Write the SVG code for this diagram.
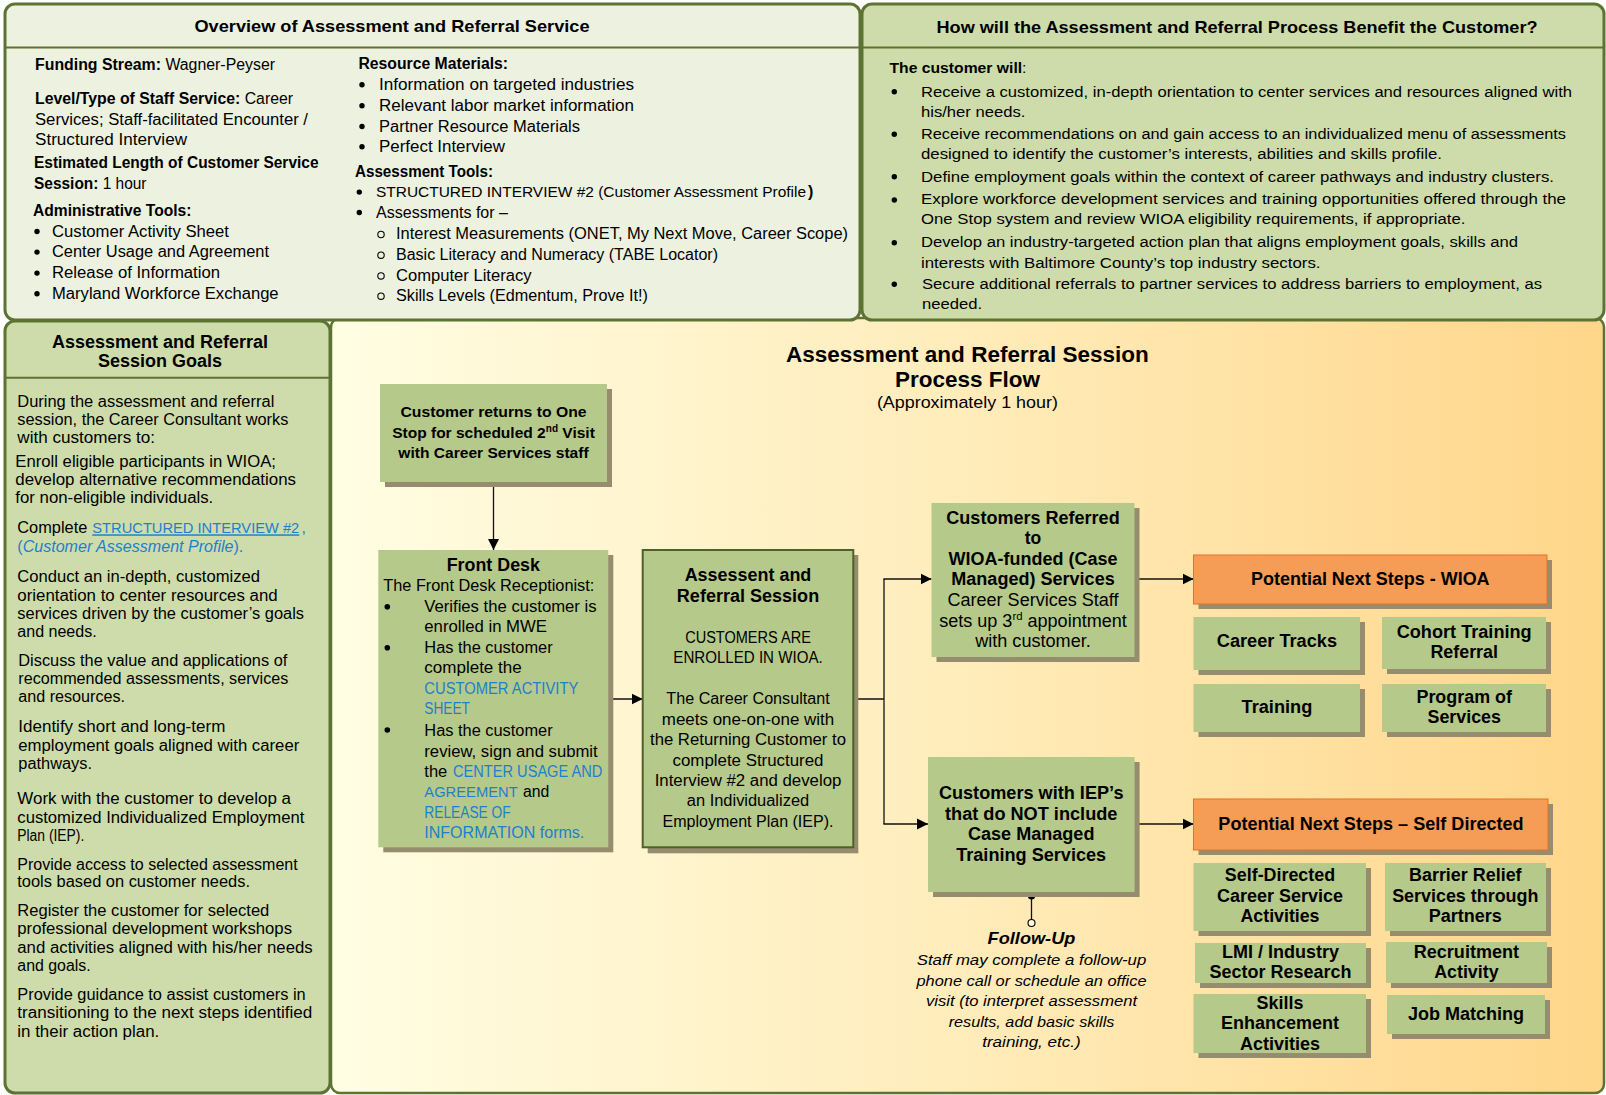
<svg xmlns="http://www.w3.org/2000/svg" width="1606" height="1095" viewBox="0 0 1606 1095">
<defs>
<linearGradient id="flowbg" x1="0" y1="0" x2="1" y2="0">
<stop offset="0" stop-color="#FFFDE3"/>
<stop offset="0.5" stop-color="#FFECBA"/>
<stop offset="1" stop-color="#FFD68A"/>
</linearGradient>
<marker id="arr" markerWidth="12" markerHeight="12" refX="11" refY="6" orient="auto" markerUnits="userSpaceOnUse">
<path d="M0,0.5 L11,6 L0,11.5 z" fill="#000"/>
</marker>
<style>
text{font-family:"Liberation Sans",Arial,sans-serif;fill:#000}
.b{font-weight:bold}
.i{font-style:italic}
.m{text-anchor:middle}
.lnk{fill:#1F7FCC}
.panel{stroke:#5C7332;stroke-width:3}
.pale{fill:#ECF1E0}
.green{fill:#CDDCAA}
.div{stroke:#5C7332;stroke-width:2}
.node{fill:#B5C98A}
.sh{fill:#968C6E}
.or{fill:#F59C56;stroke:#E8731E;stroke-width:1}
.conn{stroke:#111;stroke-width:1.3;fill:none}
</style>
</defs>

<!-- Flow panel background -->
<g id="flow-panel">
<rect x="331" y="318" width="1273" height="775" rx="9" fill="url(#flowbg)" stroke="#5C7332" stroke-width="2.5"/>
<text class="b m" x="967.4" y="361.5" font-size="22" textLength="363" lengthAdjust="spacingAndGlyphs">Assessment and Referral Session</text>
<text class="b m" x="967.4" y="387" font-size="22" textLength="145" lengthAdjust="spacingAndGlyphs">Process Flow</text>
<text class="m" x="967.4" y="407.5" font-size="17" textLength="181" lengthAdjust="spacingAndGlyphs">(Approximately 1 hour)</text>
</g>

<!-- Top-left panel -->
<g id="overview-panel" font-size="16">
<rect class="panel pale" x="5" y="4" width="855" height="316" rx="10"/>
<line class="div" x1="6" y1="47.5" x2="859" y2="47.5"/>
<text class="b m" x="392" y="32" font-size="17" textLength="395" lengthAdjust="spacingAndGlyphs">Overview of Assessment and Referral Service</text>
<text x="35" y="70" textLength="240" lengthAdjust="spacingAndGlyphs"><tspan class="b">Funding Stream:</tspan> Wagner-Peyser</text>
<text x="35" y="104.3" textLength="258" lengthAdjust="spacingAndGlyphs"><tspan class="b">Level/Type of Staff Service:</tspan> Career</text>
<text x="35" y="125" textLength="273" lengthAdjust="spacingAndGlyphs">Services; Staff-facilitated Encounter /</text>
<text x="35" y="145" textLength="152" lengthAdjust="spacingAndGlyphs">Structured Interview</text>
<text class="b" x="34" y="168.3" textLength="284.5" lengthAdjust="spacingAndGlyphs">Estimated Length of Customer Service</text>
<text x="34" y="189" textLength="112.5" lengthAdjust="spacingAndGlyphs"><tspan class="b">Session:</tspan> 1 hour</text>
<text class="b" x="33" y="216" textLength="158.5" lengthAdjust="spacingAndGlyphs">Administrative Tools:</text>
<circle cx="37" cy="231.5" r="2.7"/>
<circle cx="37" cy="252.1" r="2.7"/>
<circle cx="37" cy="273.1" r="2.7"/>
<circle cx="37" cy="293.8" r="2.7"/>
<text x="52" y="236.7" textLength="177" lengthAdjust="spacingAndGlyphs">Customer Activity Sheet</text>
<text x="52" y="257.3" textLength="217" lengthAdjust="spacingAndGlyphs">Center Usage and Agreement</text>
<text x="52" y="278.3" textLength="168" lengthAdjust="spacingAndGlyphs">Release of Information</text>
<text x="52" y="299" textLength="226.6" lengthAdjust="spacingAndGlyphs">Maryland Workforce Exchange</text>

<text class="b" x="358.5" y="68.7" textLength="149.5" lengthAdjust="spacingAndGlyphs">Resource Materials:</text>
<circle cx="362" cy="84.8" r="2.7"/>
<circle cx="362" cy="105.8" r="2.7"/>
<circle cx="362" cy="126.5" r="2.7"/>
<circle cx="362" cy="146.8" r="2.7"/>
<text x="379" y="90" textLength="255" lengthAdjust="spacingAndGlyphs">Information on targeted industries</text>
<text x="379" y="111" textLength="255" lengthAdjust="spacingAndGlyphs">Relevant labor market information</text>
<text x="379" y="131.7" textLength="201" lengthAdjust="spacingAndGlyphs">Partner Resource Materials</text>
<text x="379" y="152" textLength="126" lengthAdjust="spacingAndGlyphs">Perfect Interview</text>
<text class="b" x="355" y="176.7" textLength="138" lengthAdjust="spacingAndGlyphs">Assessment Tools:</text>
<circle cx="359.3" cy="192.1" r="2.7"/>
<circle cx="359.3" cy="212.5" r="2.7"/>
<text x="376" y="197.3" font-size="15.3" textLength="430" lengthAdjust="spacingAndGlyphs">STRUCTURED INTERVIEW #2 (Customer Assessment Profile</text>
<text class="b" x="808" y="197.3">)</text>
<text x="376" y="217.7" textLength="132" lengthAdjust="spacingAndGlyphs">Assessments for –</text>
<g fill="none" stroke="#000" stroke-width="1.1">
<circle cx="381" cy="234.5" r="3.2"/>
<circle cx="381" cy="255.2" r="3.2"/>
<circle cx="381" cy="275.9" r="3.2"/>
<circle cx="381" cy="296.2" r="3.2"/>
</g>
<text x="396" y="239.3" textLength="452" lengthAdjust="spacingAndGlyphs">Interest Measurements (ONET, My Next Move, Career Scope)</text>
<text x="396" y="260" textLength="322" lengthAdjust="spacingAndGlyphs">Basic Literacy and Numeracy (TABE Locator)</text>
<text x="396" y="280.7" textLength="135.5" lengthAdjust="spacingAndGlyphs">Computer Literacy</text>
<text x="396" y="301" textLength="252" lengthAdjust="spacingAndGlyphs">Skills Levels (Edmentum, Prove It!)</text>
</g>

<!-- Top-right panel -->
<g id="benefit-panel" font-size="15.5">
<rect class="panel green" x="862" y="4" width="742" height="316" rx="10"/>
<line class="div" x1="863" y1="47.5" x2="1603" y2="47.5"/>
<text class="b m" x="1237" y="33" font-size="17" textLength="601" lengthAdjust="spacingAndGlyphs">How will the Assessment and Referral Process Benefit the Customer?</text>
<text x="889.5" y="72.7" textLength="137" lengthAdjust="spacingAndGlyphs"><tspan class="b">The customer will</tspan>:</text>
<circle cx="894.3" cy="91.7" r="2.7"/>
<circle cx="894.3" cy="134.3" r="2.7"/>
<circle cx="894.3" cy="176.7" r="2.7"/>
<circle cx="894.3" cy="200" r="2.7"/>
<circle cx="894.3" cy="242.7" r="2.7"/>
<circle cx="894.3" cy="284.3" r="2.7"/>
<text x="921" y="96.7" textLength="651" lengthAdjust="spacingAndGlyphs">Receive a customized, in-depth orientation to center services and resources aligned with</text>
<text x="921" y="116.7" textLength="104.4" lengthAdjust="spacingAndGlyphs">his/her needs.</text>
<text x="921" y="138.7" textLength="645" lengthAdjust="spacingAndGlyphs">Receive recommendations on and gain access to an individualized menu of assessments</text>
<text x="921" y="159.3" textLength="521" lengthAdjust="spacingAndGlyphs">designed to identify the customer’s interests, abilities and skills profile.</text>
<text x="921" y="181.7" textLength="633" lengthAdjust="spacingAndGlyphs">Define employment goals within the context of career pathways and industry clusters.</text>
<text x="921" y="204" textLength="645" lengthAdjust="spacingAndGlyphs">Explore workforce development services and training opportunities offered through the</text>
<text x="921" y="224.3" textLength="544.5" lengthAdjust="spacingAndGlyphs">One Stop system and review WIOA eligibility requirements, if appropriate.</text>
<text x="921" y="247.3" textLength="597" lengthAdjust="spacingAndGlyphs">Develop an industry-targeted action plan that aligns employment goals, skills and</text>
<text x="921" y="267.7" textLength="399.5" lengthAdjust="spacingAndGlyphs">interests with Baltimore County’s top industry sectors.</text>
<text x="922" y="288.7" textLength="620" lengthAdjust="spacingAndGlyphs">Secure additional referrals to partner services to address barriers to employment, as</text>
<text x="922" y="309" textLength="60" lengthAdjust="spacingAndGlyphs">needed.</text>
</g>

<!-- Left goals panel -->
<g id="goals-panel" font-size="16">
<rect class="panel green" x="5" y="321" width="325" height="772" rx="10"/>
<line class="div" x1="6" y1="377.7" x2="329" y2="377.7"/>
<text class="b m" x="160" y="347.5" font-size="18" textLength="216" lengthAdjust="spacingAndGlyphs">Assessment and Referral</text>
<text class="b m" x="160" y="367" font-size="18" textLength="124" lengthAdjust="spacingAndGlyphs">Session Goals</text>
<text x="17.3" y="407" textLength="257" lengthAdjust="spacingAndGlyphs">During the assessment and referral</text>
<text x="17.3" y="425" textLength="271" lengthAdjust="spacingAndGlyphs">session, the Career Consultant works</text>
<text x="17.3" y="443.3" textLength="137.7" lengthAdjust="spacingAndGlyphs">with customers to:</text>
<text x="15.3" y="467.3" textLength="260.7" lengthAdjust="spacingAndGlyphs">Enroll eligible participants in WIOA;</text>
<text x="15.3" y="485.3" textLength="280.7" lengthAdjust="spacingAndGlyphs">develop alternative recommendations</text>
<text x="15.3" y="503.3" textLength="198" lengthAdjust="spacingAndGlyphs">for non-eligible individuals.</text>
<text x="17.3" y="533.3" textLength="70" lengthAdjust="spacingAndGlyphs">Complete</text>
<text class="lnk" x="92.3" y="533.3" font-size="14.6" textLength="207" lengthAdjust="spacingAndGlyphs" text-decoration="underline">STRUCTURED INTERVIEW #2</text>
<text class="lnk" x="301.5" y="533.3">,</text>
<text x="17.3" y="552" textLength="226" lengthAdjust="spacingAndGlyphs" class="lnk">(<tspan class="i lnk">Customer Assessment Profile</tspan>).</text>
<text x="17.3" y="581.7" textLength="242.7" lengthAdjust="spacingAndGlyphs">Conduct an in-depth, customized</text>
<text x="17.3" y="600.7" textLength="260.4" lengthAdjust="spacingAndGlyphs">orientation to center resources and</text>
<text x="17.3" y="618.7" textLength="286.7" lengthAdjust="spacingAndGlyphs">services driven by the customer’s goals</text>
<text x="17.3" y="637.3" textLength="79.4" lengthAdjust="spacingAndGlyphs">and needs.</text>
<text x="18.3" y="665.7" textLength="269" lengthAdjust="spacingAndGlyphs">Discuss the value and applications of</text>
<text x="18.3" y="684.3" textLength="270" lengthAdjust="spacingAndGlyphs">recommended assessments, services</text>
<text x="18.3" y="702.3" textLength="106.7" lengthAdjust="spacingAndGlyphs">and resources.</text>
<text x="18.3" y="732.3" textLength="207" lengthAdjust="spacingAndGlyphs">Identify short and long-term</text>
<text x="18.3" y="751.3" textLength="281" lengthAdjust="spacingAndGlyphs">employment goals aligned with career</text>
<text x="18.3" y="769" textLength="73.7" lengthAdjust="spacingAndGlyphs">pathways.</text>
<text x="17.3" y="803.7" textLength="273.7" lengthAdjust="spacingAndGlyphs">Work with the customer to develop a</text>
<text x="17.3" y="823.3" textLength="287" lengthAdjust="spacingAndGlyphs">customized Individualized Employment</text>
<text x="17.3" y="841" textLength="67" lengthAdjust="spacingAndGlyphs">Plan (IEP).</text>
<text x="17.3" y="870" textLength="280.4" lengthAdjust="spacingAndGlyphs">Provide access to selected assessment</text>
<text x="17.3" y="887.3" textLength="232.7" lengthAdjust="spacingAndGlyphs">tools based on customer needs.</text>
<text x="17.3" y="915.7" textLength="252" lengthAdjust="spacingAndGlyphs">Register the customer for selected</text>
<text x="17.3" y="934" textLength="274.7" lengthAdjust="spacingAndGlyphs">professional development workshops</text>
<text x="17.3" y="952.7" textLength="295.4" lengthAdjust="spacingAndGlyphs">and activities aligned with his/her needs</text>
<text x="17.3" y="970.7" textLength="73.4" lengthAdjust="spacingAndGlyphs">and goals.</text>
<text x="17.3" y="1000" textLength="288.4" lengthAdjust="spacingAndGlyphs">Provide guidance to assist customers in</text>
<text x="17.3" y="1018.3" textLength="295" lengthAdjust="spacingAndGlyphs">transitioning to the next steps identified</text>
<text x="17.3" y="1036.7" textLength="142" lengthAdjust="spacingAndGlyphs">in their action plan.</text>
</g>

<!-- Connectors -->
<g id="connectors">
<line class="conn" x1="493.5" y1="482" x2="493.5" y2="550" marker-end="url(#arr)"/>
<line class="conn" x1="608.3" y1="699" x2="642.7" y2="699" marker-end="url(#arr)"/>
<path class="conn" d="M853.3,699 H884 M884,579 V824"/>
<line class="conn" x1="883.4" y1="579" x2="931.5" y2="579" marker-end="url(#arr)"/>
<line class="conn" x1="883.4" y1="824" x2="928" y2="824" marker-end="url(#arr)"/>
<line class="conn" x1="1134.6" y1="579" x2="1193.5" y2="579" marker-end="url(#arr)"/>
<line class="conn" x1="1134.6" y1="824" x2="1193.5" y2="824" marker-end="url(#arr)"/>
<line class="conn" x1="1031.5" y1="896" x2="1031.5" y2="919.5"/>
<circle cx="1031.5" cy="896" r="3.6" fill="#000"/>
<circle cx="1031.5" cy="923" r="3.5" fill="#FFF8DC" stroke="#000" stroke-width="1.1"/>
</g>

<!-- Node: customer returns -->
<g id="node-return" font-size="15.5">
<rect class="sh" x="385" y="389" width="227" height="98"/>
<rect class="node" x="380" y="384" width="227" height="98"/>
<text class="b m" x="493.5" y="417.3" textLength="186" lengthAdjust="spacingAndGlyphs">Customer returns to One</text>
<text class="b m" x="493.5" y="438.3" textLength="202.7" lengthAdjust="spacingAndGlyphs">Stop for scheduled 2<tspan font-size="10" dy="-6">nd</tspan><tspan dy="6"> Visit</tspan></text>
<text class="b m" x="493.5" y="458.3" textLength="190.3" lengthAdjust="spacingAndGlyphs">with Career Services staff</text>
</g>

<!-- Node: front desk -->
<g id="node-frontdesk" font-size="16">
<rect class="sh" x="383.3" y="555" width="230" height="297.3"/>
<rect class="node" x="378.3" y="550" width="230" height="297.3"/>
<text class="b m" x="493.3" y="570.7" font-size="17.5" textLength="93.3" lengthAdjust="spacingAndGlyphs">Front Desk</text>
<text x="383.3" y="591" textLength="211" lengthAdjust="spacingAndGlyphs">The Front Desk Receptionist:</text>
<circle cx="387.3" cy="606.7" r="2.8"/>
<circle cx="387.3" cy="647.7" r="2.8"/>
<circle cx="387.3" cy="730" r="2.8"/>
<text x="424.3" y="612.3" textLength="172.3" lengthAdjust="spacingAndGlyphs">Verifies the customer is</text>
<text x="424.3" y="632.3" textLength="122.7" lengthAdjust="spacingAndGlyphs">enrolled in MWE</text>
<text x="424.3" y="653.3" textLength="128.4" lengthAdjust="spacingAndGlyphs">Has the customer</text>
<text x="424.3" y="673.3" textLength="97.4" lengthAdjust="spacingAndGlyphs">complete the</text>
<text class="lnk" x="424.3" y="694.3" textLength="154" lengthAdjust="spacingAndGlyphs">CUSTOMER ACTIVITY</text>
<text class="lnk" x="424.3" y="714.3" textLength="45.7" lengthAdjust="spacingAndGlyphs">SHEET</text>
<text x="424.3" y="735.7" textLength="128.4" lengthAdjust="spacingAndGlyphs">Has the customer</text>
<text x="424.3" y="756.7" textLength="173.4" lengthAdjust="spacingAndGlyphs">review, sign and submit</text>
<text x="424.3" y="776.7" textLength="23" lengthAdjust="spacingAndGlyphs">the</text>
<text class="lnk" x="453" y="776.7" textLength="149.3" lengthAdjust="spacingAndGlyphs">CENTER USAGE AND</text>
<text class="lnk" x="424.3" y="797.3" font-size="14.6" textLength="93.4" lengthAdjust="spacingAndGlyphs">AGREEMENT</text>
<text x="523" y="797.3" textLength="26.3" lengthAdjust="spacingAndGlyphs">and</text>
<text class="lnk" x="424.3" y="817.7" textLength="86.4" lengthAdjust="spacingAndGlyphs">RELEASE OF</text>
<text class="lnk" x="424.3" y="838.3" textLength="160" lengthAdjust="spacingAndGlyphs">INFORMATION forms.</text>
</g>

<!-- Node: assessment session -->
<g id="node-session" font-size="16">
<rect class="sh" x="647.7" y="555" width="210.6" height="298.3"/>
<rect class="node" x="642.7" y="550" width="210.6" height="297.3" stroke="#4E6128" stroke-width="2"/>
<text class="b m" x="748" y="580.7" font-size="17.5" textLength="126.7" lengthAdjust="spacingAndGlyphs">Assessent and</text>
<text class="b m" x="748" y="601.7" font-size="17.5" textLength="142.3" lengthAdjust="spacingAndGlyphs">Referral Session</text>
<text class="m" x="748" y="643.3" textLength="125.7" lengthAdjust="spacingAndGlyphs">CUSTOMERS ARE</text>
<text class="m" x="748" y="663.3" textLength="149.3" lengthAdjust="spacingAndGlyphs">ENROLLED IN WIOA.</text>
<text class="m" x="748" y="704.3" textLength="163.3" lengthAdjust="spacingAndGlyphs">The Career Consultant</text>
<text class="m" x="748" y="725" textLength="172.3" lengthAdjust="spacingAndGlyphs">meets one-on-one with</text>
<text class="m" x="748" y="745" textLength="196" lengthAdjust="spacingAndGlyphs">the Returning Customer to</text>
<text class="m" x="748" y="765.7" textLength="151" lengthAdjust="spacingAndGlyphs">complete Structured</text>
<text class="m" x="748" y="786" textLength="186.7" lengthAdjust="spacingAndGlyphs">Interview #2 and develop</text>
<text class="m" x="748" y="806" textLength="122.3" lengthAdjust="spacingAndGlyphs">an Individualized</text>
<text class="m" x="748" y="826.7" textLength="171" lengthAdjust="spacingAndGlyphs">Employment Plan (IEP).</text>
</g>

<!-- Node: customers referred to WIOA -->
<g id="node-wioa-referred" font-size="17.5">
<rect class="sh" x="936.5" y="508" width="203" height="154"/>
<rect class="node" x="931.5" y="503" width="203" height="154"/>
<text class="b m" x="1033" y="524.3" textLength="173.3" lengthAdjust="spacingAndGlyphs">Customers Referred</text>
<text class="b m" x="1033" y="544.3">to</text>
<text class="b m" x="1033" y="565.3" textLength="168.8" lengthAdjust="spacingAndGlyphs">WIOA-funded (Case</text>
<text class="b m" x="1033" y="585.3" textLength="163.4" lengthAdjust="spacingAndGlyphs">Managed) Services</text>
<text class="m" x="1033" y="605.7" textLength="171" lengthAdjust="spacingAndGlyphs">Career Services Staff</text>
<text class="m" x="1033" y="626.7" textLength="187.7" lengthAdjust="spacingAndGlyphs">sets up 3<tspan font-size="11" dy="-7">rd</tspan><tspan dy="7"> appointment</tspan></text>
<text class="m" x="1033" y="646.7" textLength="115.7" lengthAdjust="spacingAndGlyphs">with customer.</text>
</g>

<!-- Node: customers with IEPs -->
<g id="node-iep" font-size="17.5">
<rect class="sh" x="933" y="762" width="206.6" height="135"/>
<rect class="node" x="928" y="757" width="206.6" height="135"/>
<text class="b m" x="1031.2" y="799" textLength="184.6" lengthAdjust="spacingAndGlyphs">Customers with IEP’s</text>
<text class="b m" x="1031.2" y="820" textLength="172.4" lengthAdjust="spacingAndGlyphs">that do NOT include</text>
<text class="b m" x="1031.2" y="840" textLength="126.5" lengthAdjust="spacingAndGlyphs">Case Managed</text>
<text class="b m" x="1031.2" y="861" textLength="150" lengthAdjust="spacingAndGlyphs">Training Services</text>
</g>

<!-- Follow-up note -->
<g id="note-followup">
<text class="b i m" x="1031.5" y="944" font-size="17" textLength="87.8" lengthAdjust="spacingAndGlyphs">Follow-Up</text>
<g class="i" font-size="15.5">
<text class="i m" x="1031.5" y="965" textLength="229.6" lengthAdjust="spacingAndGlyphs">Staff may complete a follow-up</text>
<text class="i m" x="1031.5" y="986" textLength="230" lengthAdjust="spacingAndGlyphs">phone call or schedule an office</text>
<text class="i m" x="1031.5" y="1006" textLength="211" lengthAdjust="spacingAndGlyphs">visit (to interpret assessment</text>
<text class="i m" x="1031.5" y="1026.7" textLength="165.7" lengthAdjust="spacingAndGlyphs">results, add basic skills</text>
<text class="i m" x="1031.5" y="1047.3" textLength="98.6" lengthAdjust="spacingAndGlyphs">training, etc.)</text>
</g>
</g>

<!-- Node: next steps WIOA -->
<g id="node-next-wioa" font-size="18">
<rect class="sh" x="1198.5" y="560" width="353.5" height="49"/>
<rect class="or" x="1193.5" y="555" width="353.5" height="49"/>
<text class="b m" x="1370.3" y="585" textLength="238.6" lengthAdjust="spacingAndGlyphs">Potential Next Steps - WIOA</text>
</g>
<g id="node-career-tracks" font-size="17.5">
<rect class="sh" x="1198.5" y="622" width="166.5" height="53"/>
<rect class="node" x="1193.5" y="617" width="166.5" height="53"/>
<text class="b m" x="1276.9" y="647.3" textLength="120.2" lengthAdjust="spacingAndGlyphs">Career Tracks</text>
</g>
<g id="node-cohort" font-size="17.5">
<rect class="sh" x="1387" y="622" width="164" height="52"/>
<rect class="node" x="1382" y="617" width="164" height="52"/>
<text class="b m" x="1464.2" y="637.7" textLength="135" lengthAdjust="spacingAndGlyphs">Cohort Training</text>
<text class="b m" x="1464.2" y="657.7" textLength="67.5" lengthAdjust="spacingAndGlyphs">Referral</text>
</g>
<g id="node-training" font-size="17.5">
<rect class="sh" x="1198.5" y="689" width="166.5" height="48"/>
<rect class="node" x="1193.5" y="684" width="166.5" height="48"/>
<text class="b m" x="1276.9" y="713.3" textLength="70.7" lengthAdjust="spacingAndGlyphs">Training</text>
</g>
<g id="node-program" font-size="17.5">
<rect class="sh" x="1387" y="689" width="164" height="48"/>
<rect class="node" x="1382" y="684" width="164" height="48"/>
<text class="b m" x="1464.2" y="702.7" textLength="95.5" lengthAdjust="spacingAndGlyphs">Program of</text>
<text class="b m" x="1464.2" y="722.7" textLength="73.4" lengthAdjust="spacingAndGlyphs">Services</text>
</g>

<!-- Node: next steps self directed -->
<g id="node-next-self" font-size="18">
<rect class="sh" x="1198.5" y="804" width="354.5" height="51"/>
<rect class="or" x="1193.5" y="799" width="354.5" height="51"/>
<text class="b m" x="1371" y="830" textLength="305.3" lengthAdjust="spacingAndGlyphs">Potential Next Steps – Self Directed</text>
</g>
<g id="node-self-directed" font-size="17.5">
<rect class="sh" x="1198.5" y="868" width="172.5" height="68"/>
<rect class="node" x="1193.5" y="863" width="172.5" height="68"/>
<text class="b m" x="1280" y="881" textLength="110.3" lengthAdjust="spacingAndGlyphs">Self-Directed</text>
<text class="b m" x="1280" y="901.7" textLength="126" lengthAdjust="spacingAndGlyphs">Career Service</text>
<text class="b m" x="1280" y="922" textLength="79" lengthAdjust="spacingAndGlyphs">Activities</text>
</g>
<g id="node-barrier" font-size="17.5">
<rect class="sh" x="1390" y="868" width="161" height="68"/>
<rect class="node" x="1385" y="863" width="161" height="68"/>
<text class="b m" x="1465.3" y="881" textLength="112.6" lengthAdjust="spacingAndGlyphs">Barrier Relief</text>
<text class="b m" x="1465.3" y="901.7" textLength="146.3" lengthAdjust="spacingAndGlyphs">Services through</text>
<text class="b m" x="1465.3" y="922" textLength="73" lengthAdjust="spacingAndGlyphs">Partners</text>
</g>
<g id="node-lmi" font-size="17.5">
<rect class="sh" x="1200" y="948" width="171" height="40"/>
<rect class="node" x="1195" y="943" width="171" height="40"/>
<text class="b m" x="1280.5" y="958.3" textLength="117" lengthAdjust="spacingAndGlyphs">LMI / Industry</text>
<text class="b m" x="1280.5" y="978.3" textLength="141.8" lengthAdjust="spacingAndGlyphs">Sector Research</text>
</g>
<g id="node-recruitment" font-size="17.5">
<rect class="sh" x="1391" y="947" width="161" height="41"/>
<rect class="node" x="1386" y="942" width="161" height="41"/>
<text class="b m" x="1466.4" y="958.3" textLength="105.4" lengthAdjust="spacingAndGlyphs">Recruitment</text>
<text class="b m" x="1466.4" y="978.3" textLength="64.4" lengthAdjust="spacingAndGlyphs">Activity</text>
</g>
<g id="node-skills" font-size="17.5">
<rect class="sh" x="1198.5" y="999" width="172.5" height="59"/>
<rect class="node" x="1193.5" y="994" width="172.5" height="59"/>
<text class="b m" x="1280" y="1009.3" textLength="46.8" lengthAdjust="spacingAndGlyphs">Skills</text>
<text class="b m" x="1280" y="1029.3" textLength="118" lengthAdjust="spacingAndGlyphs">Enhancement</text>
<text class="b m" x="1280" y="1050" textLength="80" lengthAdjust="spacingAndGlyphs">Activities</text>
</g>
<g id="node-job-matching" font-size="17.5">
<rect class="sh" x="1392" y="1000" width="158" height="39"/>
<rect class="node" x="1387" y="995" width="158" height="39"/>
<text class="b m" x="1466" y="1020" textLength="116.2" lengthAdjust="spacingAndGlyphs">Job Matching</text>
</g>
</svg>
